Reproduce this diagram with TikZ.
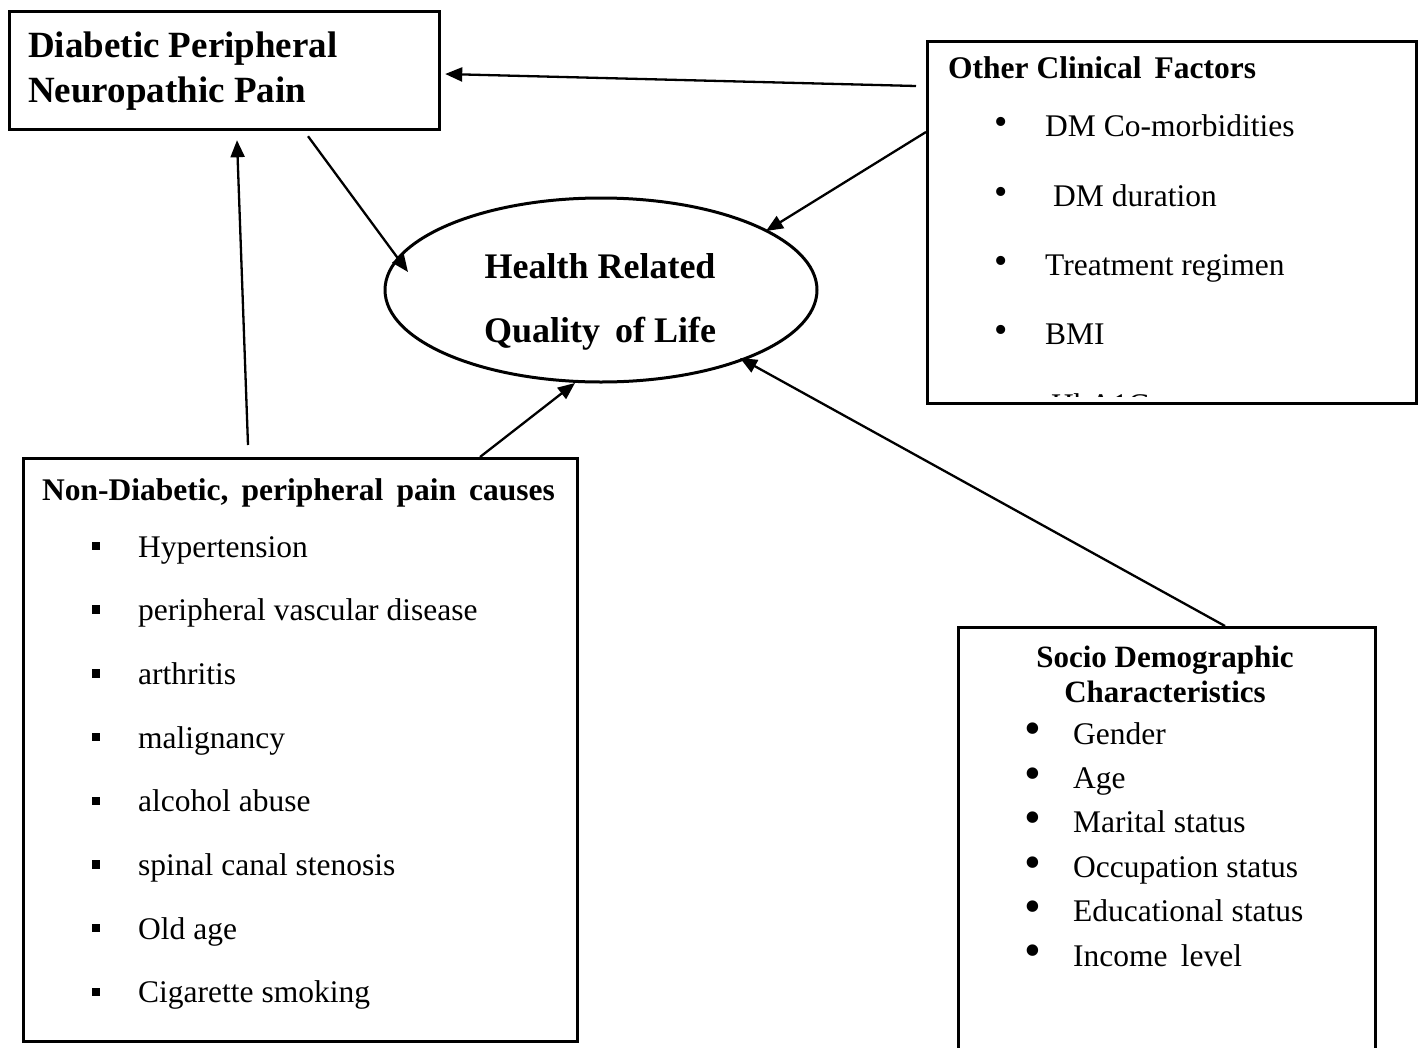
\documentclass[tikz,border=0pt]{standalone}
\usepackage{fontspec}
\setmainfont{Liberation Serif}
\usetikzlibrary{arrows.meta,calc,shapes.geometric}
\begin{document}
\begin{tikzpicture}[x=1pt,y=-1pt,
  box/.style={draw, line width=3.2pt, rectangle, anchor=north west, inner sep=0pt},
  arr/.style={line width=2.3pt, -{Triangle[length=17pt,width=14pt]}},
  txt/.style={anchor=base west, inner sep=0pt, font=\fontsize{31.5}{36}\selectfont},
  btxt/.style={anchor=base west, inner sep=0pt, font=\fontsize{31.5}{36}\selectfont\bfseries},
  bul/.style={anchor=center, inner sep=0pt, font=\fontsize{38}{38}\selectfont},
  bigbul/.style={anchor=center, inner sep=0pt, font=\fontsize{48}{48}\selectfont},
  sqbul/.style={anchor=center, inner sep=0pt}
]
\useasboundingbox (0,0) rectangle (1421,1047);
\clip (0,0) rectangle (1421,1047);
\fill[white] (0,0) rectangle (1421,1047);

% Boxes
\node[box, minimum width=430, minimum height=118] (dpnp) at (8,10) {};
\node[box, minimum width=489, minimum height=362] (oc) at (926,40) {};
\node[box, minimum width=554, minimum height=583] (nd) at (22,457) {};
\node[box, minimum width=417, minimum height=450] (sd) at (957,626) {};
\node[draw, ellipse, line width=3pt, minimum width=432, minimum height=184, inner sep=0pt] (hr) at (601,290) {};

% DPNP text
\node[anchor=base west, inner sep=0pt, font=\fontsize{37}{44}\selectfont\bfseries] (dpnp1) at (28,57) {Diabetic Peripheral};
\node[anchor=base west, inner sep=0pt, font=\fontsize{37}{44}\selectfont\bfseries] (dpnp2) at (28,102) {Neuropathic Pain};

% HRQoL text
\node[anchor=base, inner sep=0pt, font=\fontsize{36}{44}\selectfont\bfseries] (hr1) at (600,278) {Health Related};
\node[anchor=base, inner sep=0pt, font=\fontsize{36}{44}\selectfont\bfseries] (hr2) at (600,342) {Quality\, of Life};

% Other clinical factors
\node[btxt] (oct) at (948,78) {Other Clinical\, Factors};
\node[bul] (ocb1) at (1001,126) {•};
\node[txt] (oc1) at (1045,136) {DM Co-morbidities};
\node[bul] (ocb2) at (1001,196) {•};
\node[txt] (oc2) at (1053,206) {DM duration};
\node[bul] (ocb3) at (1001,265) {•};
\node[txt] (oc3) at (1045,275) {Treatment regimen};
\node[bul] (ocb4) at (1001,334) {•};
\node[txt] (oc4) at (1045,344) {BMI};
\begin{scope}
\clip (928,42) rectangle (1413,396);
\node[bul] (ocb5) at (1001,408) {•};
\node[txt] (oc5) at (1051,415) {HbA1C};
\end{scope}

% Non-diabetic causes
\node[btxt] (ndt) at (42,500) {Non-Diabetic,\, peripheral\, pain\, causes};
\foreach \i/\t in {0/Hypertension,1/peripheral vascular disease,2/arthritis,3/malignancy,4/alcohol abuse,5/spinal canal stenosis,6/Old age,7/Cigarette smoking}{
  \node[sqbul] (ndb\i) at (96,{546+63.7*\i}) {\rule{8.5pt}{8.5pt}};
  \node[txt] (nd\i) at (138,{557+63.7*\i}) {\t};
}

% Socio demographic
\node[anchor=base, inner sep=0pt, font=\fontsize{31}{36}\selectfont\bfseries] (sdt1) at (1165,667) {Socio Demographic};
\node[anchor=base, inner sep=0pt, font=\fontsize{31}{36}\selectfont\bfseries] (sdt2) at (1165,702) {Characteristics};
\foreach \i/\t in {0/Gender,1/Age,2/Marital status,3/Occupation status,4/Educational status,5/Income\, level}{
  \node[bigbul] (sdb\i) at (1033,{734+44.4*\i}) {•};
  \node[txt] (sd\i) at (1073,{744+44.4*\i}) {\t};
}

% Connectors
\draw[arr] ($(oc.north west)+(-10,46)$) -- ($(dpnp.north east)+(4,64)$);
\draw[arr] ($(dpnp.south west)+(300,5)$) -- ($(hr.center)+(-193,-18)$);
\draw[arr] ($(oc.north west)+(0,92)$) -- ($(hr.center)+(165,-59)$);
\draw[arr] ($(nd.north west)+(226,-12)$) -- ($(dpnp.south west)+(229,9)$);
\draw[arr] ($(nd.north west)+(458,0)$) -- ($(hr.center)+(-26,93)$);
\draw[arr] ($(sd.north west)+(268,0)$) -- ($(hr.center)+(139,68)$);
\end{tikzpicture}
\end{document}
